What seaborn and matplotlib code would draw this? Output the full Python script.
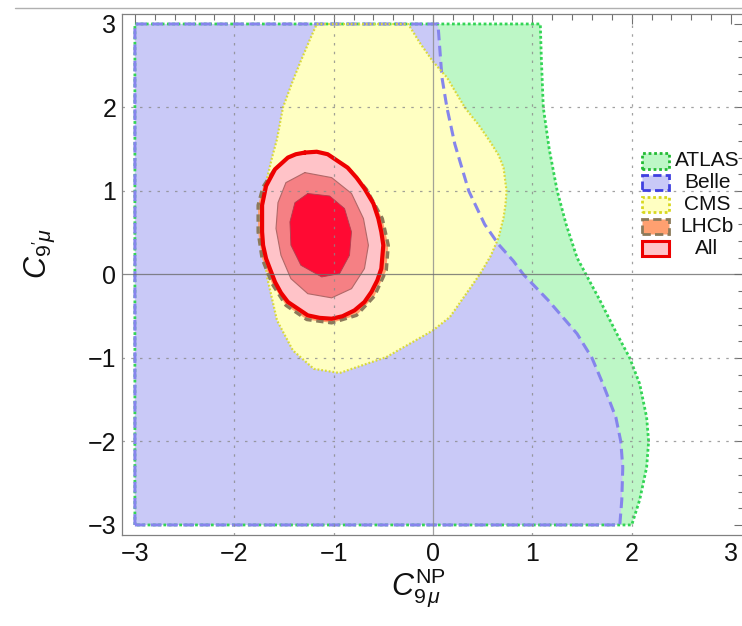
import numpy as np
import pandas as pd
import matplotlib
matplotlib.use("Agg")
import matplotlib.pyplot as plt
import seaborn as sns
from matplotlib.patches import Rectangle
from matplotlib.lines import Line2D
from matplotlib.ticker import MultipleLocator

# ---------------- data ----------------
ticks = [-3, -2, -1, 0, 1, 2, 3]
legend_labels = ["ATLAS", "Belle", "CMS", "LHCb", "All"]

atlas_x = [-3.0, -3.0, 1.08, 1.09, 1.11, 1.17, 1.25, 1.34, 1.45, 1.54, 1.68, 1.85,
           1.98, 2.08, 2.15, 2.17, 2.15, 2.08, 2.00]
atlas_y = [-3.0, 3.0, 3.0, 2.6, 2.0, 1.5, 1.0, 0.6, 0.2, 0.0, -0.31, -0.71,
           -1.0, -1.31, -1.71, -2.0, -2.31, -2.7, -3.0]

belle_x = [-3.0, -3.0, 0.05, 0.09, 0.14, 0.22, 0.36, 0.52, 0.66, 0.72, 0.81, 0.91,
           1.16, 1.45, 1.60, 1.71, 1.84, 1.89, 1.91, 1.90, 1.88]
belle_y = [-3.0, 3.0, 3.0, 2.36, 2.0, 1.56, 1.0, 0.6, 0.36, 0.28, 0.16, 0.0,
           -0.31, -0.71, -1.0, -1.31, -1.71, -2.0, -2.31, -2.7, -3.0]

cms_x = [-1.17, -0.25, -0.13, 0.0, 0.14, 0.32, 0.46, 0.57, 0.66, 0.71, 0.74, 0.73,
         0.71, 0.66, 0.58, 0.47, 0.17, 0.0, -0.47, -0.94, -1.20, -1.41, -1.57,
         -1.67, -1.71, -1.72, -1.70, -1.66, -1.62, -1.57, -1.51, -1.42, -1.34, -1.24]
cms_y = [3.0, 3.0, 2.77, 2.55, 2.36, 2.0, 1.79, 1.6, 1.43, 1.28, 1.0, 0.84,
         0.68, 0.44, 0.22, 0.0, -0.51, -0.67, -0.99, -1.18, -1.13, -0.91, -0.55,
         -0.03, 0.4, 0.8, 1.0, 1.2, 1.40, 1.62, 2.0, 2.29, 2.53, 2.81]

lhcb_x = [-1.29, -1.46, -1.60, -1.71, -1.76, -1.76, -1.72, -1.62, -1.48, -1.27,
          -1.02, -0.77, -0.59, -0.47, -0.45, -0.51, -0.67, -0.85, -1.06]
lhcb_y = [1.45, 1.39, 1.25, 1.05, 0.83, 0.51, 0.19, -0.11, -0.37, -0.54,
          -0.58, -0.49, -0.26, 0.05, 0.35, 0.67, 1.02, 1.27, 1.43]

all3_x = [-1.29, -1.38, -1.46, -1.59, -1.68, -1.72, -1.72, -1.71, -1.68, -1.59,
          -1.53, -1.46, -1.26, -1.14, -1.02, -0.91, -0.79, -0.69, -0.62, -0.56,
          -0.52, -0.50, -0.52, -0.55, -0.60, -0.69, -0.77, -0.86, -1.06, -1.17]
all3_y = [1.46, 1.44, 1.40, 1.26, 1.06, 0.83, 0.51, 0.35, 0.19, -0.09,
          -0.22, -0.33, -0.49, -0.52, -0.53, -0.50, -0.43, -0.33, -0.21, -0.07,
          0.07, 0.35, 0.51, 0.67, 0.85, 1.03, 1.16, 1.28, 1.44, 1.47]

all2_x = [-1.29, -1.48, -1.56, -1.58, -1.53, -1.43, -1.26, -1.02, -0.82, -0.69,
          -0.65, -0.70, -0.82, -1.02]
all2_y = [1.22, 1.10, 0.86, 0.55, 0.23, -0.05, -0.23, -0.28, -0.17, 0.07,
          0.35, 0.67, 0.97, 1.16]

all1_x = [-1.26, -1.39, -1.44, -1.43, -1.33, -1.12, -0.94, -0.84, -0.82, -0.89, -1.04]
all1_y = [0.97, 0.86, 0.63, 0.35, 0.11, -0.03, 0.01, 0.23, 0.51, 0.79, 0.94]

# ---------------- style ----------------
sns.set_theme(style="white")
plt.rcParams["font.family"] = ["Liberation Sans", "DejaVu Sans"]
plt.rcParams["mathtext.fontset"] = "custom"
plt.rcParams["mathtext.rm"] = "Liberation Sans"
plt.rcParams["mathtext.it"] = "Liberation Sans:italic"
plt.rcParams["mathtext.bf"] = "Liberation Sans:bold"
plt.rcParams["axes.unicode_minus"] = True

C_GREEN_F, C_GREEN_L = "#bdf7c6", "#33d455"
C_BLUE_F, C_BLUE_L = "#c9c9f7", "#8585ec"
C_YEL_F, C_YEL_L = "#ffffc2", "#d9d93a"
C_ORA_F, C_ORA_L = "#ffa070", "#8c7a5a"
C_RED3, C_RED2, C_RED1, C_REDL = "#ffc3c8", "#f58084", "#ff0a33", "#ee0000"

fig = plt.figure(figsize=(7.42, 6.26), dpi=100)
ax = fig.add_axes([0.1644, 0.1454, 0.8383, 0.8323])


def closed(x, y):
    return pd.DataFrame({"x": list(x) + [x[0]], "y": list(y) + [y[0]]})


def outline(x, y, color, lw, ls, z):
    d = closed(x, y)
    sns.lineplot(data=d, x="x", y="y", sort=False, estimator=None, ax=ax,
                 color=color, lw=lw, linestyle=ls, zorder=z,
                 solid_joinstyle="round", dash_joinstyle="round")


# fills
ax.fill(atlas_x, atlas_y, color=C_GREEN_F, lw=0, zorder=1)
ax.fill(belle_x, belle_y, color=C_BLUE_F, lw=0, zorder=2)
ax.fill(cms_x, cms_y, color=C_YEL_F, lw=0, zorder=3)

# outlines of big regions
outline(atlas_x, atlas_y, C_GREEN_L, 2.0, (0, (1.0, 0.9)), 4)
outline(belle_x, belle_y, C_BLUE_L, 2.2, (0, (3.5, 1.8)), 5)
outline(cms_x, cms_y, C_YEL_L, 1.6, (0, (0.8, 0.9)), 6)

# LHCb
ax.fill(lhcb_x, lhcb_y, color=C_ORA_F, lw=0, zorder=7)
outline(lhcb_x, lhcb_y, C_ORA_L, 2.4, (0, (2.2, 1.4)), 8)

# All (three levels)
ax.fill(all3_x, all3_y, color=C_RED3, lw=0, zorder=9)
ax.fill(all2_x, all2_y, color=C_RED2, lw=0, zorder=10)
outline(all2_x, all2_y, "#b06868", 0.8, "-", 10.5)
ax.fill(all1_x, all1_y, color=C_RED1, lw=0, zorder=11)
outline(all1_x, all1_y, "#b04050", 0.6, "-", 11.5)
outline(all3_x, all3_y, C_REDL, 3.0, "-", 12)

# grid and zero lines
for g in [-2, -1, 1, 2]:
    ax.axvline(g, color="#8a8a8a", lw=0.9, ls=(0, (2, 5)), alpha=0.8, zorder=13)
    ax.axhline(g, color="#8a8a8a", lw=0.9, ls=(0, (2, 5)), alpha=0.8, zorder=13)
ax.axvline(0, color="#8c8c8c", lw=0.9, alpha=0.8, zorder=13)
ax.axhline(0, color="#6c6c6c", lw=0.9, alpha=0.8, zorder=13)

# axes
ax.set_xlim(-3.13, 3.13)
ax.set_ylim(-3.12, 3.12)
ax.set_xticks(ticks)
ax.set_yticks(ticks)
ax.set_xticklabels([f"{t}".replace("-", "\u2212") for t in ticks])
ax.set_yticklabels([f"{t}".replace("-", "\u2212") for t in ticks])
ax.xaxis.set_minor_locator(MultipleLocator(0.2))
ax.yaxis.set_minor_locator(MultipleLocator(0.2))
ax.tick_params(which="both", direction="in", top=True, right=True,
               color="#707070", width=0.8)
ax.tick_params(which="major", length=7, labelsize=18, labelcolor="#111111")
ax.tick_params(which="minor", length=4)
ax.tick_params(axis="x", pad=5)
ax.tick_params(axis="y", pad=4)
for s in ax.spines.values():
    s.set_color("#808080")
    s.set_linewidth(0.9)
    s.set_zorder(20)

ax.set_xlabel(r"$C_{9\,\mu}^{\mathrm{NP}}$", fontsize=22, color="#111111")
ax.set_ylabel(r"$C_{9'\mu}$", fontsize=22, color="#111111")
ax.xaxis.set_label_coords(0.477, -0.06)
ax.yaxis.set_label_coords(-0.105, 0.54)

# gray line above the chart
fig.add_artist(Line2D([15 / 742, 1.0], [1 - 8 / 626, 1 - 8 / 626],
                      transform=fig.transFigure, color="#b0b0b0", lw=1.0))

# legend (manual, centred labels)
sw_face = [C_GREEN_F, C_BLUE_F, C_YEL_F, C_ORA_F, C_RED3]
sw_edge = ["#22bb33", "#4040e0", "#d8d820", "#8c7a5a", "#ee0000"]
sw_ls = [(0, (1, 1)), (0, (3, 1.5)), (0, (1, 1)), (0, (3, 1.5)), "-"]
sw_lw = [2.0, 2.0, 2.0, 2.0, 2.2]
W, H = 742.0, 626.0
for i, lab in enumerate(legend_labels):
    cy = 161 + i * 21.8
    r = Rectangle((642 / W, 1 - (cy + 7.5) / H), 27 / W, 15 / H,
                  transform=fig.transFigure, facecolor=sw_face[i],
                  edgecolor=sw_edge[i], lw=sw_lw[i], linestyle=sw_ls[i], zorder=30)
    fig.add_artist(r)
    fig.text(707 / W, 1 - cy / H, lab, ha="center", va="center",
             fontsize=15, color="#111111", zorder=30)

fig.savefig("out.png", dpi=100)
